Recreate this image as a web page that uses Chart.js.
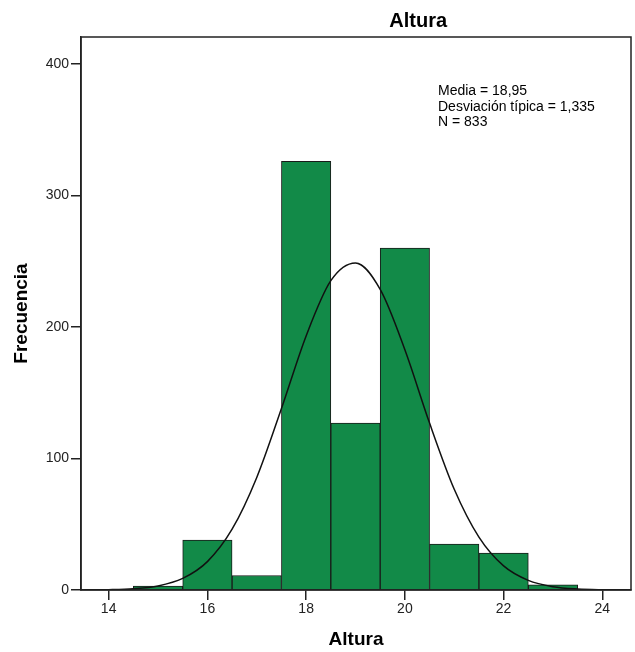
<!DOCTYPE html>
<html>
<head>
<meta charset="utf-8">
<script src="https://cdn.jsdelivr.net/npm/chart.js@4"></script>
<style>
  body { margin: 0; background: #fff; }
  #wrap { width: 635px; height: 652px; }
</style>
</head>
<body>
<div id="wrap"><canvas id="histo"></canvas></div>
<script>
// bin centres and counts
const binCentres = [15, 16, 17, 18, 19, 20, 21, 22, 23];
const binCounts = [3, 38, 11, 326, 127, 260, 35, 28, 4];

// normal curve, read at every half unit
const curveX = [13.5, 14, 14.5, 15, 15.5, 16, 16.5, 17, 17.5, 18, 18.5, 19,
                19.5, 20, 20.5, 21, 21.5, 22, 22.5, 23, 23.5, 24, 24.5];
const curveY = [0.06, 0.26, 0.96, 3.1, 8.8, 21.6, 46.2, 85.6, 138, 193.2, 235.2, 248.7,
                228.6, 182.7, 126.9, 76.6, 40.2, 18.3, 7.3, 2.5, 0.75, 0.2, 0.05];

const xTicks = [14, 16, 18, 20, 22, 24];
const yTicks = [0, 100, 200, 300, 400];

const statLines = ["Media = 18,95", "Desviación típica = 1,335", "N = 833"];
const chartTitle = "Altura";

const ink = '#222';

const framePlugin = {
    id: 'frame',
    afterDraw(chart) {
        const c = chart.ctx, a = chart.chartArea;
        c.save();
        c.strokeStyle = ink;
        c.lineWidth = 1.5;
        c.strokeRect(a.left, a.top, a.right - a.left, a.bottom - a.top);

        // title
        c.fillStyle = '#000';
        c.font = 'bold 20px "Liberation Sans", Arial, sans-serif';
        c.textAlign = 'center';
        c.textBaseline = 'alphabetic';
        c.fillText(chartTitle, a.left + (a.right - a.left) * 0.613, a.top - 10);

        // stats box
        c.font = '14px "Liberation Sans", Arial, sans-serif';
        c.textAlign = 'left';
        statLines.forEach((t, i) => {
            c.fillText(t, a.left + 357, a.top + 58 + i * 15.5);
        });
        c.restore();
    }
};

new Chart(document.getElementById('histo'), {
    type: 'bar',
    data: {
        datasets: [{
            type: 'line',
            data: curveX.map((x, i) => ({x: x, y: curveY[i]})),
            borderColor: '#111',
            borderWidth: 1.5,
            pointRadius: 0,
            fill: false,
            cubicInterpolationMode: 'monotone',
            order: 0
        }, {
            type: 'bar',
            data: binCentres.map((x, i) => ({x: x, y: binCounts[i]})),
            backgroundColor: '#128a48',
            borderColor: '#1a1a1a',
            borderWidth: 1,
            barPercentage: 1,
            categoryPercentage: 1,
            order: 1
        }]
    },
    options: {
        responsive: true,
        maintainAspectRatio: false,
        animation: false,
        layout: { padding: { top: 37, right: 4, left: 0, bottom: 0 } },
        plugins: {
            legend: { display: false },
            tooltip: { enabled: false }
        },
        scales: {
            x: {
                type: 'linear',
                min: 13.44,
                max: 24.58,
                offset: false,
                afterFit: s => { s.height = 62; },
                afterBuildTicks: s => { s.ticks = xTicks.map(v => ({value: v})); },
                grid: { offset: false, drawOnChartArea: false, drawTicks: true, tickLength: 10, color: ink, lineWidth: 1.5 },
                border: { display: true, color: ink, width: 1.5 },
                ticks: { color: '#222', padding: 1, maxRotation: 0,
                         font: { family: '"Liberation Sans", Arial, sans-serif', size: 14 } },
                title: { display: true, text: 'Altura', color: '#000', padding: { top: 0, bottom: 1 },
                         font: { family: '"Liberation Sans", Arial, sans-serif', size: 19, weight: 'bold' } }
            },
            y: {
                min: 0,
                max: 420.5,
                afterFit: s => { s.width = 81; },
                afterBuildTicks: s => { s.ticks = yTicks.map(v => ({value: v})); },
                grid: { drawOnChartArea: false, drawTicks: true, tickLength: 10, color: ink, lineWidth: 1.5 },
                border: { display: true, color: ink, width: 1.5 },
                ticks: { color: '#222', padding: 2,
                         font: { family: '"Liberation Sans", Arial, sans-serif', size: 14 } },
                title: { display: true, text: 'Frecuencia', color: '#000', padding: { top: 10, bottom: 0 },
                         font: { family: '"Liberation Sans", Arial, sans-serif', size: 19, weight: 'bold' } }
            }
        }
    },
    plugins: [framePlugin]
});
</script>
</body>
</html>
